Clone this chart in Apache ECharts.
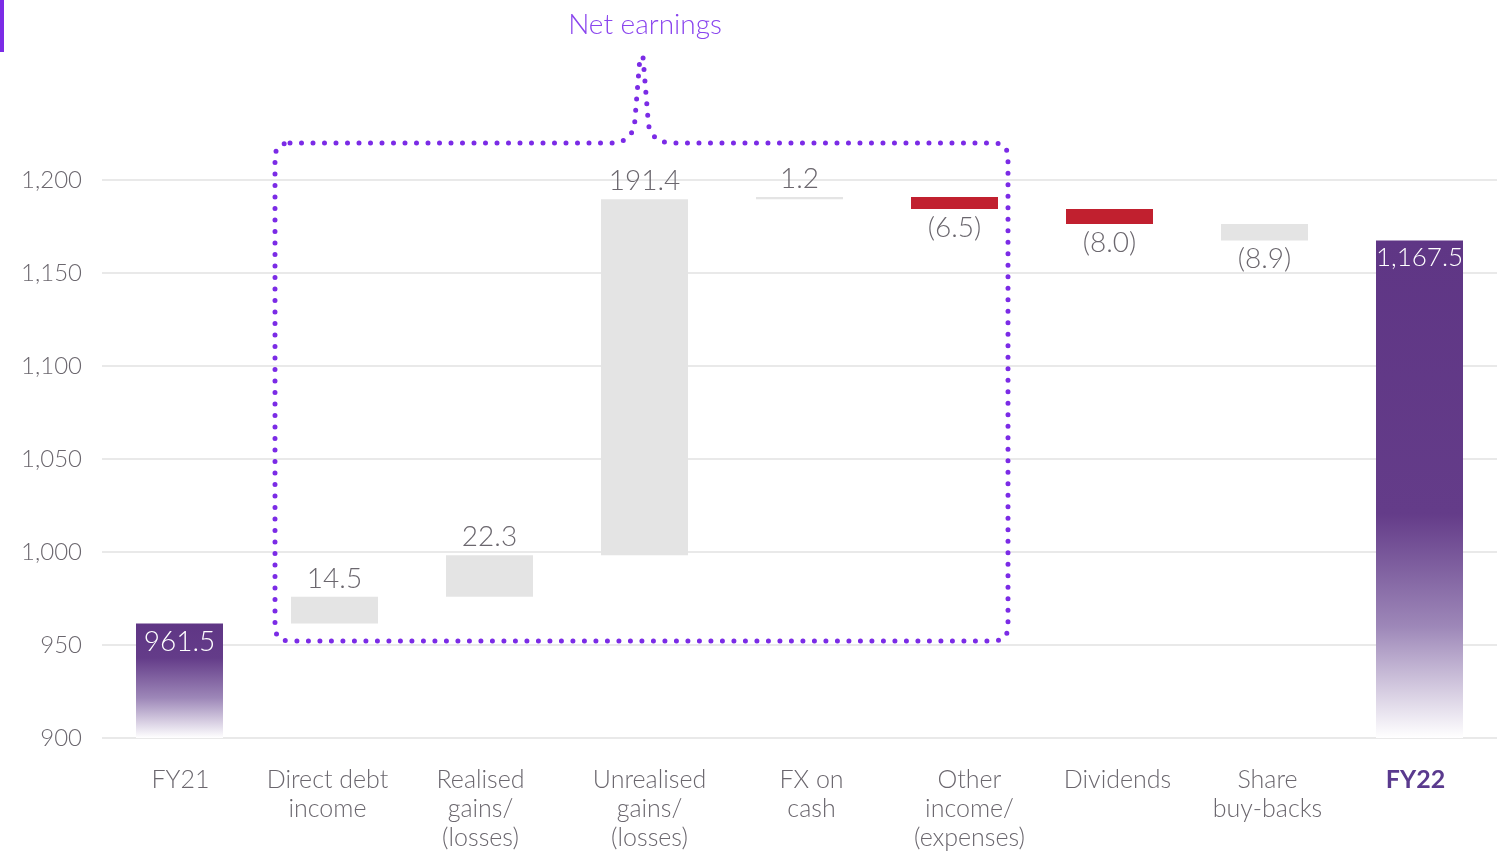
<!DOCTYPE html>
<html>
<head>
<meta charset="utf-8">
<title>Net earnings waterfall</title>
<script src="https://cdn.jsdelivr.net/npm/echarts@6/dist/echarts.min.js"></script>
<style>
  html, body { margin: 0; padding: 0; background: #fff; }
  #chart { width: 1503px; height: 852px; }
</style>
</head>
<body>
<div id="chart"></div>
<script>
// categories and values
var categories = ['FY21', 'Direct debt\nincome', 'Realised\ngains/\n(losses)', 'Unrealised\ngains/\n(losses)',
  'FX on\ncash', 'Other\nincome/\n(expenses)', 'Dividends', 'Share\nbuy-backs', 'FY22'];
var changes = [961.5, 14.5, 22.3, 191.4, 1.2, -6.5, -8.0, -8.9, 1167.5];
var isTotal = [true, false, false, false, false, false, false, false, true];
var barKind = ['total', 'up', 'up', 'up', 'up', 'down', 'down', 'grey', 'total'];
var yTicks = [900, 950, 1000, 1050, 1100, 1150, 1200];
// small horizontal nudges of the category labels (px), as placed in the original
var labelNudge = [1, -7, -9, 5, 12, 15, 8, 3, -4];

var FONT = 'Lato';
var textGrey = '#6b676e';
var purple = '#7b2be6';

var kindColor = {
  up: '#e4e4e4',
  grey: '#e4e4e4',
  down: '#c1202f'
};

function totalGradient(solidTo) {
  return new echarts.graphic.LinearGradient(0, 0, 0, 1, [
    { offset: 0, color: '#5f3685' },
    { offset: solidTo, color: '#643c89' },
    { offset: solidTo + (1 - solidTo) * 0.5, color: '#9d87b8' },
    { offset: 1, color: '#ffffff' }
  ]);
}

function fmt(v) {
  return v.toLocaleString('en-US', { minimumFractionDigits: 1, maximumFractionDigits: 1 });
}

// dotted "Net earnings" bracket
echarts.graphic.registerShape('netBracket', echarts.graphic.extendShape({
  shape: { l: 275, r: 1008, t: 143, b: 641, rad: 15, px: 641.5, py: 57 },
  buildPath: function (ctx, s) {
    var px = s.px;
    ctx.moveTo(s.l + s.rad, s.t);
    ctx.lineTo(px - 31, s.t);
    ctx.quadraticCurveTo(px - 11, s.t, px - 7, s.t - 18);
    ctx.lineTo(px - 1.5, s.py);
    ctx.lineTo(px + 1.5, s.py);
    ctx.lineTo(px + 7, s.t - 18);
    ctx.quadraticCurveTo(px + 11, s.t, px + 31, s.t);
    ctx.lineTo(s.r - s.rad, s.t);
    ctx.quadraticCurveTo(s.r, s.t, s.r, s.t + s.rad);
    ctx.lineTo(s.r, s.b - s.rad);
    ctx.quadraticCurveTo(s.r, s.b, s.r - s.rad, s.b);
    ctx.lineTo(s.l + s.rad, s.b);
    ctx.quadraticCurveTo(s.l, s.b, s.l, s.b - s.rad);
    ctx.lineTo(s.l, s.t + s.rad);
    ctx.quadraticCurveTo(s.l, s.t, s.l + s.rad, s.t);
  }
}));

// build stacked waterfall: transparent base + visible part
var baseData = [];
var barData = [];
var running = 0;
for (var i = 0; i < changes.length; i++) {
  var v = changes[i];
  var item;
  if (isTotal[i]) {
    running = v;
    baseData.push(0);
    item = {
      value: v,
      itemStyle: { color: totalGradient(i === 0 ? 0.3 : 0.55) },
      label: {
        position: 'insideTop', distance: 4, color: '#fff',
        fontSize: v >= 1000 ? 26 : 28,
        formatter: fmt(v)
      }
    };
  } else if (v >= 0) {
    baseData.push(running);
    running += v;
    item = {
      value: v,
      itemStyle: { color: kindColor[barKind[i]] },
      label: { position: 'top', distance: 4, formatter: fmt(v) }
    };
  } else {
    running += v;
    baseData.push(running);
    item = {
      value: -v,
      itemStyle: { color: kindColor[barKind[i]] },
      label: { position: 'bottom', distance: 5, formatter: '(' + fmt(-v) + ')' }
    };
  }
  barData.push(item);
}

var xData = categories.map(function (c, i) {
  var d = labelNudge[i];
  var ts = { padding: d >= 0 ? [0, 0, 0, 2 * d] : [0, -2 * d, 0, 0] };
  if (i === categories.length - 1) {
    ts.color = '#5a3a8e';
    ts.fontWeight = 'bold';
    ts.fontFamily = FONT;
  }
  return { value: c, textStyle: ts };
});

var chartDom = document.getElementById('chart');
var myChart = echarts.init(chartDom);
var option;

option = {
  animation: false,
  textStyle: { fontFamily: FONT },
  grid: { left: 102, right: 6, top: 180, bottom: 113 },
  xAxis: {
    type: 'category',
    data: xData,
    axisLine: { show: false },
    axisTick: { show: false },
    axisLabel: {
      interval: 0,
      margin: 27,
      color: textGrey,
      fontSize: 25,
      lineHeight: 29,
      fontWeight: 300,
      fontFamily: FONT
    }
  },
  yAxis: {
    type: 'value',
    min: yTicks[0],
    max: yTicks[yTicks.length - 1],
    interval: 50,
    axisLine: { show: false },
    axisTick: { show: false },
    splitLine: { lineStyle: { color: '#e2e2e2', width: 1.5 } },
    axisLabel: {
      margin: 20,
      color: textGrey,
      fontSize: 24,
      fontWeight: 300,
      fontFamily: FONT,
      formatter: function (v) { return v.toLocaleString('en-US'); }
    }
  },
  series: [
    {
      name: 'base',
      type: 'bar',
      stack: 'wf',
      barWidth: 87,
      silent: true,
      itemStyle: { color: 'transparent' },
      data: baseData
    },
    {
      name: 'change',
      type: 'bar',
      stack: 'wf',
      barWidth: 87,
      label: {
        show: true,
        fontSize: 28,
        fontWeight: 300,
        fontFamily: FONT,
        color: textGrey
      },
      data: barData
    }
  ],
  graphic: [
    {
      type: 'rect',
      shape: { x: 0, y: 0, width: 4, height: 52 },
      style: { fill: purple }
    },
    {
      type: 'text',
      x: 645,
      y: 25,
      style: {
        text: 'Net earnings',
        fill: '#8a45ee',
        fontSize: 28,
        fontWeight: 300,
        fontFamily: FONT,
        align: 'center',
        verticalAlign: 'middle'
      }
    },
    {
      type: 'netBracket',
      style: {
        fill: null,
        stroke: purple,
        lineWidth: 5,
        lineDash: [0, 11.5],
        lineCap: 'round'
      },
      z: 10
    }
  ]
};

option && myChart.setOption(option);
</script>
</body>
</html>
